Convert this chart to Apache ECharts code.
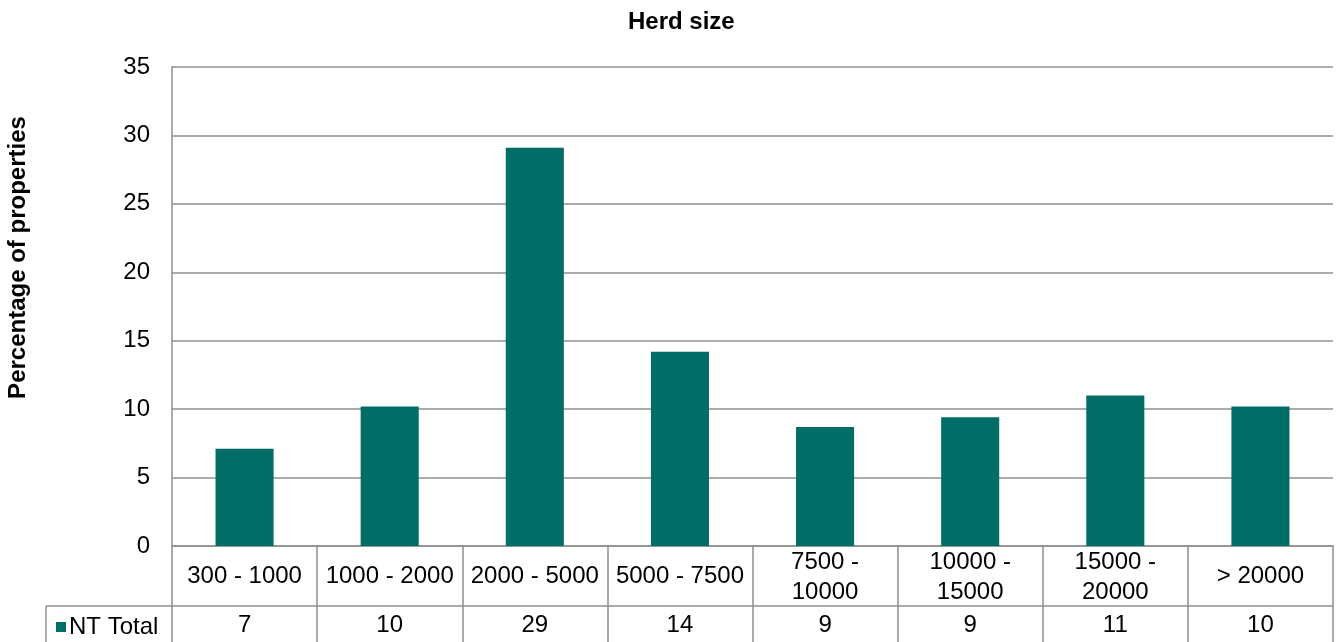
<!DOCTYPE html>
<html lang="en">
<head>
  <meta http-equiv="Content-Type" content="text/html; charset=UTF-8">
  <title>Herd size</title>
  <style>
    html, body {
      padding: 0;
      margin: 0;
      background: #fff;
    }
    #myChart {
      width: 1341px;
      height: 642px;
    }
  </style>
</head>
<body>
  <div id="myChart"></div>
  <script src="https://cdn.jsdelivr.net/npm/echarts@6/dist/echarts.min.js"></script>
  <script>
    const myChart = echarts.init(document.getElementById('myChart'));
    const herdSizes = ['300 - 1000', '1000 - 2000', '2000 - 5000', '5000 - 7500',
      '7500 - 10000', '10000 - 15000', '15000 - 20000', '> 20000'];
    const ntTotal = [7.1, 10.2, 29.1, 14.2, 8.7, 9.4, 11.0, 10.2];
    const seriesName = 'NT Total';
    const font = 'Liberation Sans, Arial, sans-serif';
    const lineGray = '#8f8f8f';
    const fs = 24;

    const option = {
      backgroundColor: '#fff',
      textStyle: { fontFamily: font },
      title: {
        text: 'Herd size',
        left: 623,
        top: 5,
        textStyle: { fontSize: fs, fontWeight: 'bold', color: '#000', fontFamily: font }
      },
      legend: {
        data: [seriesName],
        left: 51,
        top: 610,
        icon: 'rect',
        itemWidth: 10,
        itemHeight: 10,
        itemGap: 4,
        textStyle: { fontSize: fs, color: '#000', fontFamily: font, padding: [0, 0, 0, -2] }
      },
      grid: {
        left: 172,
        right: 8,
        top: 67,
        bottom: 96,
        outerBoundsMode: 'none'
      },
      xAxis: {
        type: 'category',
        data: herdSizes,
        axisLine: { lineStyle: { color: lineGray, width: 1.5 } },
        axisTick: { show: true, length: 96, lineStyle: { color: lineGray, width: 1.5 } },
        axisLabel: {
          interval: 0,
          margin: 0,
          color: '#000',
          fontFamily: font,
          formatter(value, idx) {
            const v = Math.round(ntTotal[idx]);
            if (value.length > 11) {
              const parts = value.split(' - ');
              return `{twoA|${parts[0]} -}\n{twoB|${parts[1]}}\n{val|${v}}`;
            }
            return `{one|${value}}\n{val|${v}}`;
          },
          rich: {
            one: { fontSize: fs, lineHeight: 60, color: '#000', fontFamily: font },
            twoA: { fontSize: fs, lineHeight: 33, color: '#000', fontFamily: font },
            twoB: { fontSize: fs, lineHeight: 27, color: '#000', fontFamily: font },
            val: { fontSize: fs, lineHeight: 38, color: '#000', fontFamily: font }
          }
        }
      },
      yAxis: {
        type: 'value',
        min: 0,
        max: 35,
        interval: 5,
        name: 'Percentage of properties',
        nameLocation: 'middle',
        nameGap: 142,
        nameTextStyle: {
          fontSize: fs, fontWeight: 'bold', color: '#000', fontFamily: font,
          padding: [0, 0, 0, 98]
        },
        axisLine: { show: true, lineStyle: { color: lineGray, width: 1.5 } },
        axisTick: { show: false },
        axisLabel: { fontSize: fs, color: '#000', margin: 22, fontFamily: font },
        splitLine: { lineStyle: { color: lineGray, width: 1.5 } }
      },
      graphic: [
        // table row divider and legend cell borders
        { type: 'line', shape: { x1: 46, y1: 606, x2: 1333, y2: 606 }, style: { stroke: lineGray, lineWidth: 1.5 } },
        { type: 'line', shape: { x1: 46, y1: 606, x2: 46, y2: 642 }, style: { stroke: lineGray, lineWidth: 1.5 } }
      ],
      series: [{
        name: seriesName,
        type: 'bar',
        barWidth: '40%',
        itemStyle: { color: '#006D66' },
        data: ntTotal
      }]
    };
    myChart.setOption(option);
  </script>
</body>
</html>
